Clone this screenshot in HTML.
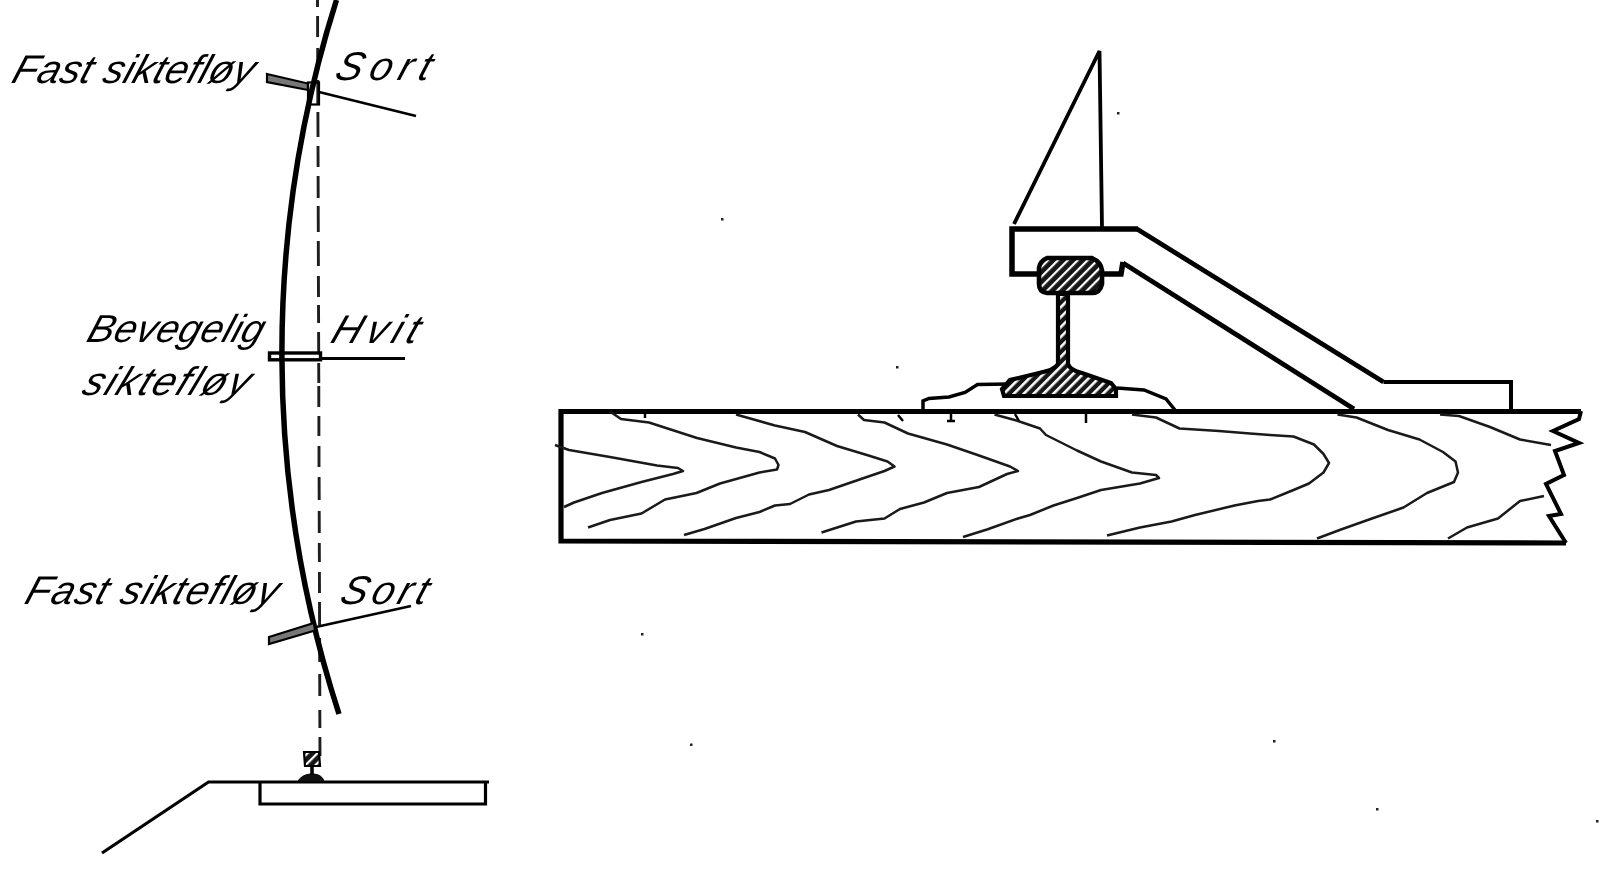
<!DOCTYPE html>
<html>
<head>
<meta charset="utf-8">
<style>
html,body{margin:0;padding:0;background:#fff;width:1600px;height:890px;overflow:hidden;}
svg{display:block;}
.t{font-family:"Liberation Sans",sans-serif;font-style:italic;fill:#000;}
svg{will-change:transform;}
</style>
</head>
<body>
<svg width="1600" height="890" viewBox="0 0 1600 890">
<defs>
<pattern id="hatch" width="7" height="7" patternUnits="userSpaceOnUse" patternTransform="rotate(-45)">
<rect width="7" height="7" fill="#161616"/>
<rect width="7" height="2.2" fill="#fff"/>
</pattern>
<pattern id="hatch2" width="7" height="7" patternUnits="userSpaceOnUse" patternTransform="rotate(-45)">
<rect width="7" height="7" fill="#161616"/>
<rect width="7" height="2.6" fill="#fff"/>
</pattern>
</defs>
<g fill="none" stroke="#000" stroke-linecap="butt" stroke-linejoin="miter">
<!-- LEFT FIGURE -->
<path d="M317.5,0 L317.5,7 M317.6,16 L317.6,37 M317.7,48 L317.7,70 M317.8,80 L317.8,105 M317.9,112 L318.0,137 M318.0,146 L318.1,167 M318.1,176 L318.2,198 M318.2,206 L318.3,232 M318.3,241 L318.4,266 M318.4,276 L318.5,297 M318.5,305 L318.6,323 M318.6,332 L318.7,353 M318.7,363 L318.8,383 M318.8,386 L318.8,407 M318.9,416 L318.9,436 M319.0,446 L319.0,467 M319.1,477 L319.2,500 M319.2,511 L319.3,533 M319.3,543 L319.4,562 M319.4,572 L319.5,593 M319.5,602 L319.6,625 M319.6,638 L319.7,662 M319.7,674 L319.8,696 M319.8,710 L319.9,728 M319.9,737 L320.0,756" stroke-width="2.9" stroke="#1e1e1e"/>
<path d="M336.5,0 A1169,1169 0 0 0 339,714" stroke-width="5.5"/>
<!-- top vane -->
<path d="M267,74 L308,83.5 L308,90 L267,82 Z" fill="#777" stroke-width="2.2"/>
<rect x="308" y="82.5" width="11" height="22" stroke-width="2.2"/>
<path d="M319,92 L416,116" stroke-width="2.5"/>
<!-- middle vane -->
<rect x="269.5" y="353" width="51" height="6.8" stroke-width="3.4"/>
<path d="M320,358.5 L405,358.5" stroke-width="3"/>
<!-- bottom vane -->
<path d="M269,637 L314,623 L315,630.5 L269,644 Z" fill="#777" stroke-width="2.2"/>
<path d="M316,627 L411,606" stroke-width="2.5"/>
<!-- ground -->
<path d="M102,853 L208.5,782 L489,782" stroke-width="3.2"/>
<path d="M260,782 L260,804 L485.5,804 L485.5,782" stroke-width="3.2"/>
<!-- small rail -->
<path d="M304,752 L319,752 L320,766 L305,766 Z" fill="url(#hatch)" stroke-width="2.2"/>
<path d="M312,766 L312,775" stroke-width="3.5"/>
<path d="M297.5,782 Q301,775 310,774 L314,774 Q323,775 324,782 Z" fill="#111" stroke-width="1"/>

<!-- RIGHT FIGURE -->
<path d="M1014,224 L1099.5,51 L1102,228" stroke-width="3.8"/>
<path d="M1038,274 L1012,274 L1012,229 L1138,229" stroke-width="5.5"/>
<path d="M1137,229 L1383.5,382" stroke-width="4.8"/>
<path d="M1383.5,382 L1511,382 L1511,410" stroke-width="4"/>
<path d="M1101,274 L1121,274 L1123,262" stroke-width="5.5"/>
<path d="M1123,263 L1354,409" stroke-width="4.8"/>
<!-- rail head -->
<path d="M1047,258 L1092,258 Q1101,262 1102,270 L1102,284 Q1100,293 1092,293 L1047,293 Q1039,292 1039,284 L1039,268 Q1040,261 1047,258 Z" fill="url(#hatch)" stroke-width="4.6"/>
<!-- web + foot -->
<path d="M1058,294 L1058,364 Q1055,370 1039,373 L1010,380 L1002,389 L1004,396 L1116,396 L1116,389 L1111,383 L1082,373 Q1070,370 1068,364 L1068,294 Z" fill="url(#hatch2)" stroke-width="4.2"/>
<!-- tie plate -->
<path d="M923,410 L923,401 L929,398.5 L949,397 L965,392.5 L977.5,384.5 L1009,384" stroke-width="3.5"/>
<path d="M1117,388 L1144,390 L1166,399 L1175,410" stroke-width="3.5"/>
<!-- plank -->
<path d="M1581,411.5 L561,411.5 L561,541 L1566,543" stroke-width="5.2"/>
<g stroke-width="2.5"><path d="M898,415 L903,421 M951,414 L951,422 M947,421 L955,421 M1086,414 L1086,423 M645,413 L645,418 M1015,414 L1019,421"/></g>
<path d="M1581,411 L1579,419 L1553,431 L1579,443 L1555,451 L1564,475 L1546,484 L1561,514 L1549,516 L1566,543" stroke-width="4"/>
<!-- grain -->
<g stroke-width="2.5" stroke="#1a1a1a" stroke-linejoin="round">
<path d="M555,445 L569,450 L610,457 L657,465.5 L678,468 L683,471 L673,474 L641.5,482 L602,493 L574,502.5 L564,507"/>
<path d="M610,411.5 L621,419 L649,422.5 L697,438 L736,447.5 L759.5,452 L775,458.5 L778.5,465 L777,469.5 L759.5,472.5 L720,483.5 L696.5,493 L665,499.5 L641.5,513.5 L610,520 L588,527.5"/>
<path d="M736,414.5 L752,419 L775,425.5 L805,432 L837,446 L868.5,455.5 L887.5,461.5 L894.5,466.5 L884.5,471 L861,479 L829,490 L809,494.5 L790,504 L775,505.5 L759.5,512 L736,518 L704.5,529 L684,535"/>
<path d="M858,414.5 L864,420 L884.5,422.5 L908,433.5 L947,444.5 L979,455.5 L1010,466.5 L1018,471 L1007,474 L979,487 L947,493 L924,502.5 L900,509 L884.5,518.5 L856,521.5 L821.5,532.5"/>
<path d="M994.5,414.5 L1016.5,420.5 L1040,428.5 L1046,435 L1077,450.5 L1101,461.5 L1132,472.5 L1156,475 L1159,478 L1140,483.5 L1101,490 L1077,498 L1053.5,505.5 L1030,515 L1018,518.5 L987,529.5 L963,537"/>
<path d="M1132,414.5 L1156,417.5 L1179.5,428.5 L1219,431 L1250,433.5 L1270,435 L1293.5,436.5 L1314,444.5 L1323.5,454 L1329,463 L1323.5,472.5 L1309,483.5 L1293.5,490 L1270,499.5 L1258,501 L1234.5,505.5 L1195,515 L1171.5,521.5 L1140,527.5 L1107,535.5"/>
<path d="M1337.5,414.5 L1356.5,417.5 L1388,430 L1419.5,439.5 L1443,452 L1455.5,461.5 L1458,472.5 L1454,482 L1427,493 L1403.5,507.5 L1372,518.5 L1341,529.5 L1317,538.5"/>
<path d="M1440,414.5 L1459,416 L1490,427 L1520,439.5 L1551,445"/>
<path d="M1448,538.5 L1467,527.5 L1498,518.5 L1520,501 L1544,496"/>
</g>
</g>
<g fill="#222">
<rect x="721" y="218" width="2.5" height="2.5"/>
<rect x="1117" y="112" width="2.5" height="2.5"/>
<rect x="896" y="366" width="2.5" height="2.5"/>
<rect x="641" y="633" width="2.5" height="2.5"/>
<rect x="690" y="743.5" width="2.5" height="2.5"/>
<rect x="1273" y="740" width="2.5" height="2.5"/>
<rect x="1376" y="808" width="2.5" height="2.5"/>
<rect x="1596" y="820" width="2.5" height="2.5"/>
</g>
<!-- TEXT -->
<g class="t">
<text transform="translate(10,83) skewX(-18)" font-size="40" letter-spacing="0.38">Fast siktefløy</text>
<text transform="translate(333,80) skewX(-18)" font-size="40" letter-spacing="7.0">Sort</text>
<text transform="translate(85,342) skewX(-18)" font-size="39" letter-spacing="0.5">Bevegelig</text>
<text transform="translate(80,394.5) skewX(-22)" font-size="40" letter-spacing="2.25">siktefløy</text>
<text transform="translate(329,343) skewX(-20)" font-size="40" letter-spacing="5.67">Hvit</text>
<text transform="translate(23,604) skewX(-18)" font-size="40" letter-spacing="1.23">Fast siktefløy</text>
<text transform="translate(338,604) skewX(-18)" font-size="40" letter-spacing="4.33">Sort</text>
</g>
</svg>
</body>
</html>
